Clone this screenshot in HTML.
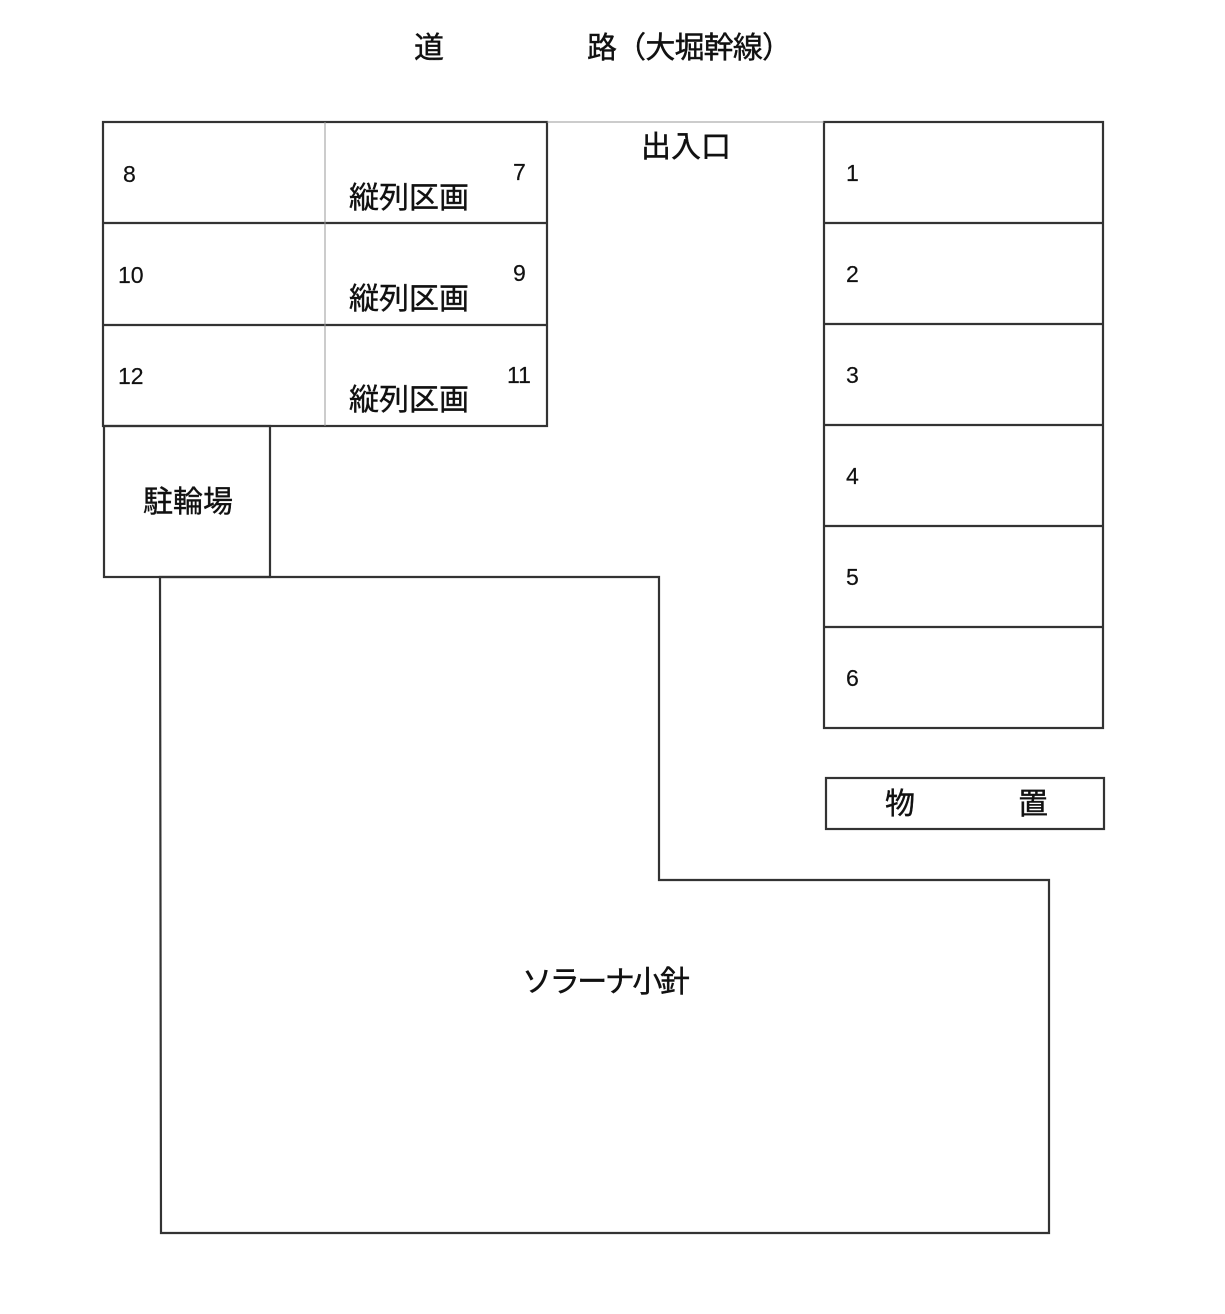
<!DOCTYPE html>
<html><head><meta charset="utf-8"><style>
html,body{margin:0;padding:0;background:#fff}
svg{display:block}
text{font-family:"Liberation Sans","Noto Sans CJK JP",sans-serif;fill:#111;stroke:#111;stroke-width:0.4}
.j{font-size:30px}
.n{font-size:23px;stroke-width:0.2}
</style></head><body>
<svg width="1225" height="1314" viewBox="0 0 1225 1314" xmlns="http://www.w3.org/2000/svg">
<g fill="none" stroke="#333" stroke-width="2.2">
<rect x="103" y="122" width="444" height="304"/>
<line x1="103" y1="223" x2="547" y2="223"/>
<line x1="103" y1="325" x2="547" y2="325"/>
<rect x="104" y="426" width="166" height="151"/>
<rect x="824" y="122" width="279" height="606"/>
<line x1="824" y1="223" x2="1103" y2="223"/>
<line x1="824" y1="324" x2="1103" y2="324"/>
<line x1="824" y1="425" x2="1103" y2="425"/>
<line x1="824" y1="526" x2="1103" y2="526"/>
<line x1="824" y1="627" x2="1103" y2="627"/>
<rect x="826" y="778" width="278" height="51"/>
<polygon points="160,577 659,577 659,880 1049,880 1049,1233 161,1233"/>
</g>
<g stroke="#999" stroke-width="1">
<line x1="325" y1="122" x2="325" y2="426"/>
<line x1="547" y1="122" x2="824" y2="122"/>
</g>
<text class="j" x="414" y="58">道</text>
<text class="j" x="587" y="58" textLength="205" lengthAdjust="spacing">路（大堀幹線）</text>
<text class="j" x="641" y="157">出入口</text>
<text class="n" x="123" y="182">8</text>
<text class="n" x="513" y="180">7</text>
<text class="j" x="349" y="208">縦列区画</text>
<text class="n" x="118" y="283">10</text>
<text class="n" x="513" y="281">9</text>
<text class="j" x="349" y="309">縦列区画</text>
<text class="n" x="118" y="384">12</text>
<text class="n" x="507" y="383">11</text>
<text class="j" x="349" y="410">縦列区画</text>
<text class="j" x="143" y="512">駐輪場</text>
<text class="n" x="846" y="181">1</text>
<text class="n" x="846" y="282">2</text>
<text class="n" x="846" y="383">3</text>
<text class="n" x="846" y="484">4</text>
<text class="n" x="846" y="585">5</text>
<text class="n" x="846" y="686">6</text>
<text class="j" x="885" y="814">物</text>
<text class="j" x="1018" y="814">置</text>
<text class="j" x="522" y="992" textLength="168" lengthAdjust="spacing">ソラーナ小針</text>
</svg>
</body></html>
